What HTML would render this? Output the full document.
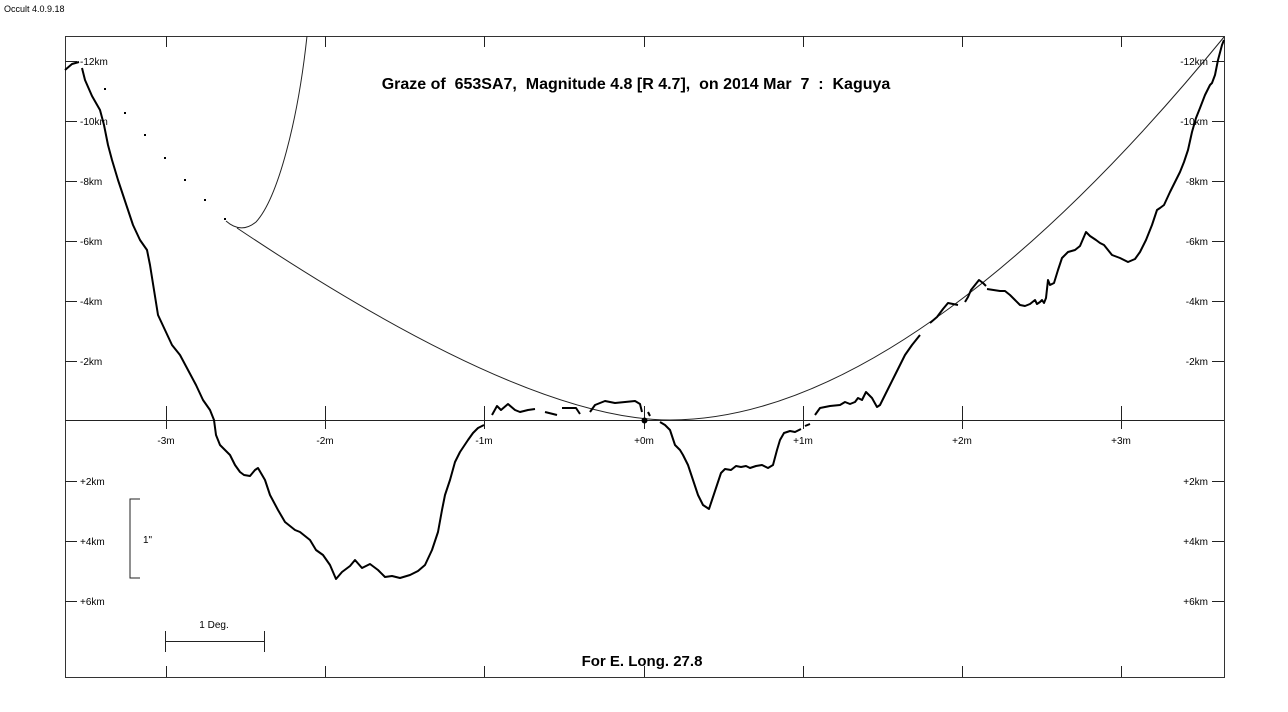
<!DOCTYPE html>
<html><head><meta charset="utf-8"><style>
body{margin:0;background:#fff}
svg{display:block}
text{font-family:"Liberation Sans",Arial,sans-serif;fill:#000;white-space:pre}
</style></head><body>
<svg width="1288" height="712" viewBox="0 0 1288 712">
<text x="4" y="12" font-size="9">Occult 4.0.9.18</text>
<rect x="65.5" y="36.5" width="1159" height="641" fill="none" stroke="#333" stroke-width="1"/>
<line x1="65" y1="420.5" x2="1224" y2="420.5" stroke="#222" stroke-width="1"/>
<g stroke="#222" stroke-width="1">
<line x1="166.5" y1="36" x2="166.5" y2="47"/><line x1="325.5" y1="36" x2="325.5" y2="47"/><line x1="484.5" y1="36" x2="484.5" y2="47"/><line x1="644.5" y1="36" x2="644.5" y2="47"/><line x1="803.5" y1="36" x2="803.5" y2="47"/><line x1="962.5" y1="36" x2="962.5" y2="47"/><line x1="1121.5" y1="36" x2="1121.5" y2="47"/>
<line x1="166.5" y1="666" x2="166.5" y2="677"/><line x1="325.5" y1="666" x2="325.5" y2="677"/><line x1="484.5" y1="666" x2="484.5" y2="677"/><line x1="644.5" y1="666" x2="644.5" y2="677"/><line x1="803.5" y1="666" x2="803.5" y2="677"/><line x1="962.5" y1="666" x2="962.5" y2="677"/><line x1="1121.5" y1="666" x2="1121.5" y2="677"/>
<line x1="166.5" y1="406" x2="166.5" y2="429"/><line x1="325.5" y1="406" x2="325.5" y2="429"/><line x1="484.5" y1="406" x2="484.5" y2="429"/><line x1="644.5" y1="406" x2="644.5" y2="429"/><line x1="803.5" y1="406" x2="803.5" y2="429"/><line x1="962.5" y1="406" x2="962.5" y2="429"/><line x1="1121.5" y1="406" x2="1121.5" y2="429"/>
<line x1="65" y1="61.5" x2="77" y2="61.5"/><line x1="65" y1="121.5" x2="77" y2="121.5"/><line x1="65" y1="181.5" x2="77" y2="181.5"/><line x1="65" y1="241.5" x2="77" y2="241.5"/><line x1="65" y1="301.5" x2="77" y2="301.5"/><line x1="65" y1="361.5" x2="77" y2="361.5"/><line x1="65" y1="481.5" x2="77" y2="481.5"/><line x1="65" y1="541.5" x2="77" y2="541.5"/><line x1="65" y1="601.5" x2="77" y2="601.5"/>
<line x1="1212" y1="61.5" x2="1224" y2="61.5"/><line x1="1212" y1="121.5" x2="1224" y2="121.5"/><line x1="1212" y1="181.5" x2="1224" y2="181.5"/><line x1="1212" y1="241.5" x2="1224" y2="241.5"/><line x1="1212" y1="301.5" x2="1224" y2="301.5"/><line x1="1212" y1="361.5" x2="1224" y2="361.5"/><line x1="1212" y1="481.5" x2="1224" y2="481.5"/><line x1="1212" y1="541.5" x2="1224" y2="541.5"/><line x1="1212" y1="601.5" x2="1224" y2="601.5"/>
</g>
<g font-size="10">
<text x="80" y="65">-12km</text><text x="80" y="125">-10km</text><text x="80" y="185">-8km</text><text x="80" y="245">-6km</text><text x="80" y="305">-4km</text><text x="80" y="365">-2km</text><text x="80" y="485">+2km</text><text x="80" y="545">+4km</text><text x="80" y="605">+6km</text>
<g text-anchor="end"><text x="1208" y="65">-12km</text><text x="1208" y="125">-10km</text><text x="1208" y="185">-8km</text><text x="1208" y="245">-6km</text><text x="1208" y="305">-4km</text><text x="1208" y="365">-2km</text><text x="1208" y="485">+2km</text><text x="1208" y="545">+4km</text><text x="1208" y="605">+6km</text></g>
<g text-anchor="middle"><text x="166" y="444">-3m</text><text x="325" y="444">-2m</text><text x="484" y="444">-1m</text><text x="644" y="444">+0m</text><text x="803" y="444">+1m</text><text x="962" y="444">+2m</text><text x="1121" y="444">+3m</text>
<text x="214" y="628">1 Deg.</text></g>
<text x="143" y="543">1"</text>
</g>
<g stroke="#222" stroke-width="1" fill="none">
<polyline points="140,499 130,499 130,578 140,578"/>
<line x1="165" y1="641.5" x2="264" y2="641.5"/><line x1="165.5" y1="631" x2="165.5" y2="652"/><line x1="264.5" y1="631" x2="264.5" y2="652"/>
</g>
<text x="636" y="89" font-size="16" font-weight="bold" text-anchor="middle" xml:space="preserve">Graze of  653SA7,  Magnitude 4.8 [R 4.7],  on 2014 Mar  7  :  Kaguya</text>
<text x="642" y="666" font-size="15" font-weight="bold" text-anchor="middle">For E. Long. 27.8</text>
<g fill="none" stroke="#222" stroke-width="1">
<path d="M226,221 C234,228 244,232 256,222 C278,198 298,120 307,36"/>
<path d="M237,228 Q524,420 670,420 C850,420 1050,250 1224,37"/>
</g>
<g fill="#000"><rect x="104" y="88" width="2" height="2"/><rect x="124" y="112" width="2" height="2"/><rect x="144" y="134" width="2" height="2"/><rect x="164" y="157" width="2" height="2"/><rect x="184" y="179" width="2" height="2"/><rect x="204" y="199" width="2" height="2"/><rect x="224" y="218" width="2" height="2"/></g>
<g fill="none" stroke="#000" stroke-width="2" stroke-linejoin="round">
<polyline points="65,70 72,64 79,62"/>
<polyline points="82,68 85,80 92,96 100,110 104,125 108,145 112,160 118,180 123,195 128,210 133,225 140,240 147,250 150,265 154,290 158,315 165,330 172,345 180,355 188,370 196,385 203,400 210,410 214,420 216,435 220,445 225,450 230,455 235,465 240,472 244,475 250,476 255,470 258,468 265,480 270,495 278,510 285,522 295,530 300,532 310,540 316,550 323,555 330,565 336,579 342,572 350,566 355,560 362,568 370,564 378,570 385,577 392,576 400,578 410,575 418,571 425,565 432,550 438,532 442,510 445,495 450,480 455,462 460,452 468,440 473,433 478,428 484,425"/>
<polyline points="492,415 497,406 501,410 508,404 515,410 520,412 528,410 535,409"/>
<polyline points="545,412 557,415"/>
<polyline points="562,408 576,408 580,414"/>
<polyline points="590,412 595,405 605,401 615,403 625,402 635,401 640,404 642,412"/>
<polyline points="648,412 650,416"/>
<polyline points="660,422 665,425 670,430 675,445 680,450 683,455 688,465 693,480 698,495 703,505 709,509 712,500 717,485 721,473 725,469 731,470 736,466 741,467 746,466 750,468 756,466 762,465 768,468 773,465 777,450 780,440 784,433 790,431 795,432 801,429"/>
<polyline points="805,426 810,424"/>
<polyline points="815,415 820,408 830,406 840,405 845,402 850,404 855,402 858,398 862,400 866,392 872,398 877,407 880,405 885,395 890,385 895,375 900,365 905,355 912,345 920,335"/>
<polyline points="930,323 937,317 943,309 948,303 958,305"/>
<polyline points="965,302 968,297 971,290 975,285 979,280 983,283 986,286"/>
<polyline points="987,289 1000,291 1005,291 1010,295 1015,300 1020,305 1025,306 1030,304 1035,300 1037,304 1040,302 1042,300 1044,303 1046,298 1048,280 1050,285 1054,283 1058,270 1062,258 1068,252 1075,250 1080,246 1086,232 1090,236 1096,240 1100,243 1104,245 1108,250 1112,255 1120,258 1128,262 1135,259 1140,252 1146,240 1152,225 1157,210 1160,208 1164,205 1170,192 1176,180 1180,172 1184,162 1188,150 1192,132 1196,118 1200,108 1205,95 1210,85 1212,83 1215,75 1218,60 1222,45 1224,40"/>
</g>
<circle cx="644.5" cy="420.5" r="3" fill="#000"/>
</svg>
</body></html>
